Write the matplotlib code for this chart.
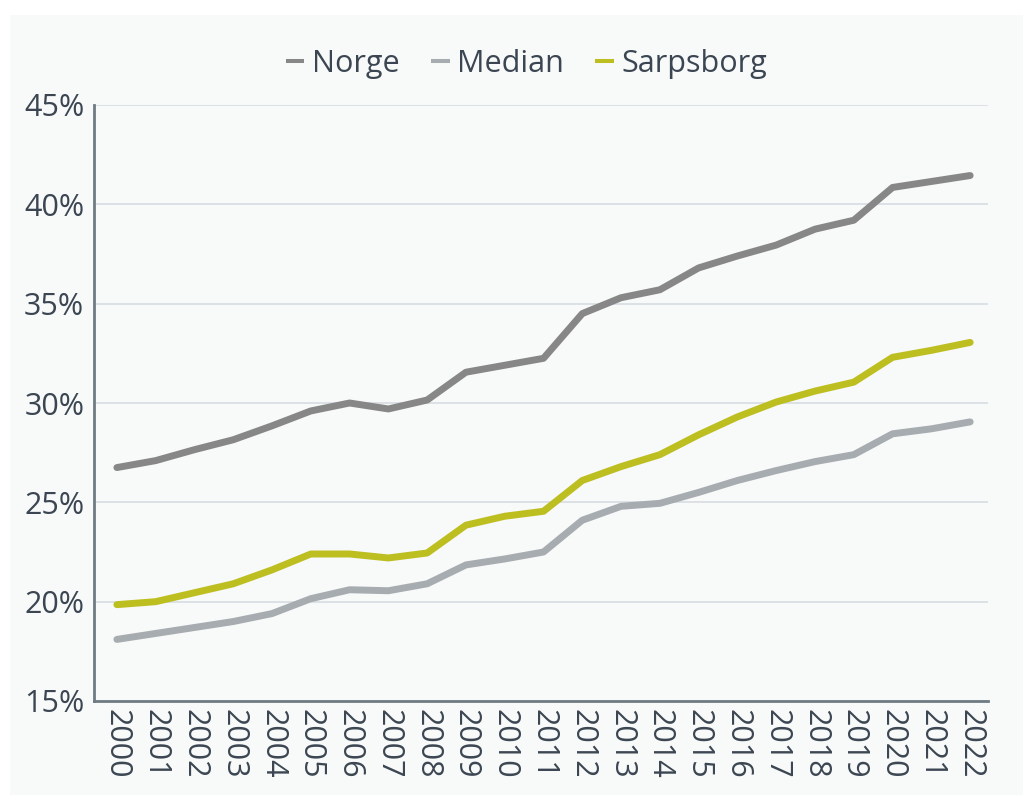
import matplotlib
matplotlib.use("Agg")
import matplotlib.pyplot as plt
from matplotlib.patches import Rectangle
from matplotlib.ticker import FuncFormatter

years = list(range(2000, 2023))
norge = [26.75, 27.1, 27.65, 28.15, 28.85, 29.6, 30.0, 29.7, 30.15, 31.55, 31.9, 32.25,
         34.5, 35.3, 35.7, 36.8, 37.4, 37.95, 38.75, 39.2, 40.85, 41.15, 41.45]
median = [18.1, 18.4, 18.7, 19.0, 19.4, 20.15, 20.6, 20.55, 20.9, 21.85, 22.15, 22.5,
          24.1, 24.8, 24.95, 25.5, 26.1, 26.6, 27.05, 27.4, 28.45, 28.7, 29.05]
sarpsborg = [19.85, 20.0, 20.45, 20.9, 21.6, 22.4, 22.4, 22.2, 22.45, 23.85, 24.3, 24.55,
             26.1, 26.8, 27.4, 28.4, 29.3, 30.05, 30.6, 31.05, 32.3, 32.65, 33.05]
yticks = [15, 20, 25, 30, 35, 40, 45]

text_col = "#3b4652"
plt.rcParams['font.family'] = ['Open Sans', 'DejaVu Sans']

fig = plt.figure(figsize=(10.23, 7.95), dpi=100)
fig.patch.set_facecolor("white")
# light grey panel behind the chart
fig.patches.append(Rectangle((10 / 1023, 0), 1, 1 - 15 / 795, transform=fig.transFigure,
                             facecolor="#f8f9f9", edgecolor="none", zorder=-10))

ax = fig.add_axes([94 / 1023, 1 - 701 / 795, 894 / 1023, 596 / 795])
ax.set_facecolor("none")

ax.plot(years, norge, color="#878787", lw=5, solid_capstyle="round", label="Norge")
ax.plot(years, median, color="#a7acb0", lw=5, solid_capstyle="round", label="Median")
ax.plot(years, sarpsborg, color="#bdbe1f", lw=5, solid_capstyle="round", label="Sarpsborg")

ax.set_xlim(1999.41, 2022.46)
ax.set_ylim(15, 45)
ax.set_yticks(yticks)
ax.yaxis.set_major_formatter(FuncFormatter(lambda v, p: f"{v:.0f}%"))
ax.set_xticks(years)
ax.set_xticklabels([str(y) for y in years], rotation=270)
ax.tick_params(axis="both", length=0, labelsize=22, colors=text_col)
ax.tick_params(axis="x", pad=6)
ax.tick_params(axis="y", pad=7)

ax.grid(axis="y", color="#d6dde2", lw=1.2)
ax.set_axisbelow(True)
for s in ["top", "right"]:
    ax.spines[s].set_visible(False)
for s in ["left", "bottom"]:
    ax.spines[s].set_color("#6f7b83")
    ax.spines[s].set_linewidth(2)

leg = ax.legend(loc="center", bbox_to_anchor=(0.4838, 1.069), ncol=3, frameon=False,
                fontsize=22, handlelength=0.62, handletextpad=0.26, columnspacing=1.0,
                borderpad=0, borderaxespad=0)
for t in leg.get_texts():
    t.set_color(text_col)
for h in leg.get_lines():
    h.set_linewidth(2.9)
    h.set_solid_capstyle("butt")

fig.savefig("out.png", dpi=100)
